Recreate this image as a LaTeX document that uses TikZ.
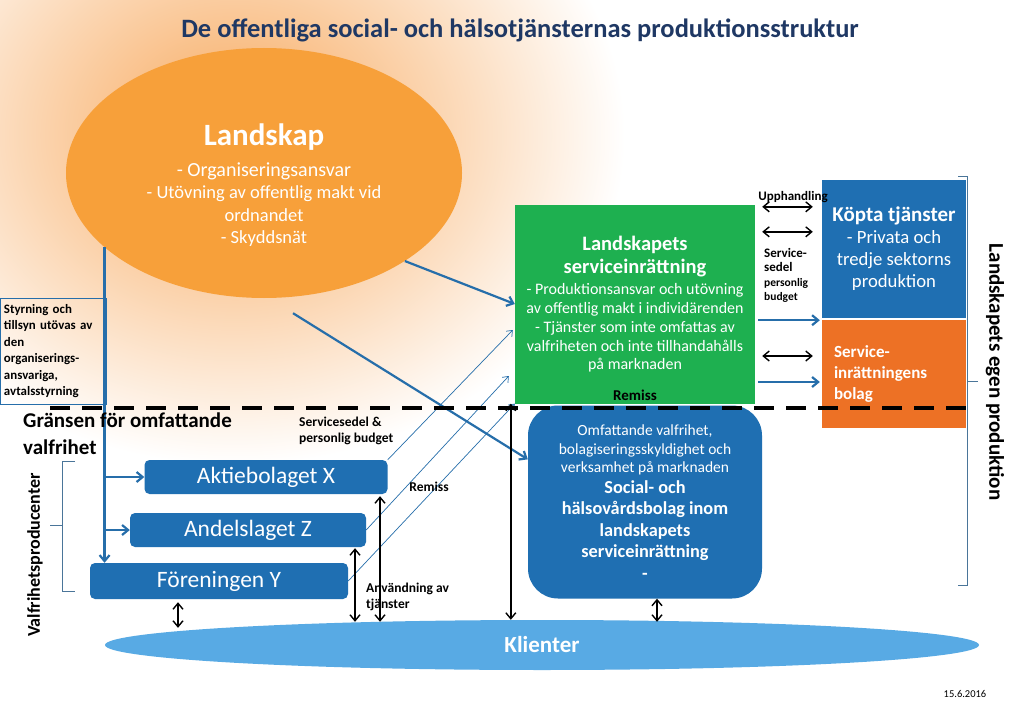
\documentclass[tikz,border=0pt]{standalone}
\usepackage{fontspec}
\setmainfont{Carlito}
\usetikzlibrary{calc,arrows.meta,positioning,shapes.geometric}
\definecolor{titleblue}{RGB}{31,56,100}
\definecolor{boxblue}{RGB}{31,111,178}
\definecolor{lineblue}{RGB}{38,110,170}
\definecolor{landorange}{RGB}{247,160,58}
\definecolor{glow}{RGB}{247,168,92}
\definecolor{servgreen}{RGB}{30,176,80}
\definecolor{bolagorange}{RGB}{237,113,37}
\definecolor{klientblue}{RGB}{88,170,228}
\newcommand{\bigb}{\fontsize{20.5}{25}\selectfont\bfseries}
\newcommand{\midb}{\fontsize{18.3}{22}\selectfont\bfseries}

\begin{document}
\begin{tikzpicture}[x=1pt,y=-1pt,>={Straight Barb[length=6pt,width=10pt]},
  txt/.style={text=white,align=center,inner sep=0pt},
  box/.style={fill=boxblue,rounded corners=5pt,minimum height=34pt,inner sep=0pt,text=white,font=\fontsize{23.5}{26}\selectfont},
  feed/.style={->,draw=lineblue,line width=2.2pt},
  thinfeed/.style={->,draw=lineblue,line width=0.7pt,>={Straight Barb[length=5pt,width=8pt]}},
  dbl/.style={<->,draw=black,line width=1.4pt},
  lbl/.style={font=\fontsize{13.5}{16}\selectfont\bfseries,align=left,inner sep=0pt},
  bracket/.style={draw=lineblue!60!gray,line width=0.8pt}]

  \useasboundingbox (0,0) rectangle (1023,706);
  \begin{scope}
    \clip (0,0) rectangle (1023,706);
    \fill[white] (0,0) rectangle (1023,706);
    \shade[inner color=glow,outer color=white] (235,135) ellipse (390 and 330);
  \end{scope}

  \node[font=\fontsize{26.5}{30}\selectfont\bfseries,text=titleblue] (title) at (520,30) {De offentliga social- och hälsotjänsternas produktionsstruktur};

  % landskap
  \node[ellipse,fill=landorange,minimum width=396pt,minimum height=250pt] (landskap) at (264,173) {};
  \node[txt,font=\fontsize{18.5}{22.3}\selectfont] (landtxt) at (264,185) {\fontsize{31}{36}\selectfont\bfseries Landskap\\[9pt] \fontsize{20}{22.3}\selectfont - Organiseringsansvar\\- Utövning av offentlig makt vid\\ordnandet\\- Skyddsnät};

  \node[draw=lineblue,line width=0.6pt,minimum width=106pt,minimum height=106pt,text width=98pt,inner xsep=4pt,align=left,font=\fontsize{12.9}{16.4}\selectfont\bfseries] (styr) at (53,351) {Styrning och\\tillsyn utövas av\\den\\organiserings-\\ansvariga,\\avtalsstyrning};

  % egen produktion
  \node[fill=servgreen,minimum width=240pt,minimum height=199pt,txt,font=\fontsize{16}{18.8}\selectfont] (serv) at (635,304) {\bigb Landskapets\\[5pt]\bigb serviceinrättning\\[2pt]- Produktionsansvar och utövning\\av offentlig makt i individärenden\\- Tjänster som inte omfattas av\\valfriheten och inte tillhandahålls\\på marknaden};
  \node[lbl,font=\fontsize{15}{16}\selectfont\bfseries] (remiss1) [above=3pt of serv.south] {Remiss};
  \node[fill=boxblue,minimum width=144pt,minimum height=138pt,txt,font=\fontsize{18.7}{22}\selectfont] (kopta) at (894,249) {\fontsize{21}{24}\selectfont\bfseries Köpta tjänster\\- Privata och\\tredje sektorns\\produktion};
  \node[fill=bolagorange,minimum height=108pt,text width=120pt,inner xsep=12pt,inner ysep=0pt,text=white,align=left,font=\fontsize{17}{21}\selectfont\bfseries] (bolag) at (894,374) {Service-\\inrättningens\\bolag};

  % valfrihet
  \node[fill=boxblue,rounded corners=30pt,minimum width=234pt,minimum height=193pt,txt,font=\fontsize{15.5}{18.5}\selectfont] (socbolag) at (645,502) {Omfattande valfrihet,\\bolagiseringsskyldighet och\\verksamhet på marknaden\\[2pt]\midb Social- och\\[3pt]\midb hälsovårdsbolag inom\\[3pt]\midb landskapets\\[3pt]\midb serviceinrättning\\[3pt]\midb -};
  \node[box,minimum width=243pt] (aktie) at (266,477) {Aktiebolaget X};
  \node[box,minimum width=236pt] (andel) at (248,530) {Andelslaget Z};
  \node[box,minimum width=258pt,minimum height=36pt] (foren) at (219,581) {Föreningen Y};

  \node[ellipse,fill=klientblue,minimum width=874pt,minimum height=50pt,text=white,font=\fontsize{23}{26}\selectfont\bfseries] (klient) at (542,645) {Klienter};

  \path[every edge/.style=feed]
    (landskap.-32) edge (serv.west)
    ($(landskap.south)+(29,15)$) edge (socbolag.160)
    (landskap.205) edge (landskap.205 |- foren.north)
    (landskap.205 |- aktie.west) edge (aktie.west)
    (landskap.205 |- andel.west) edge (andel.west)
    ($(serv.east |- kopta.south)+(3,2)$) edge ($(kopta.south west)+(-2,2)$)
    ($(serv.east |- bolag.west)+(3,8)$) edge ($(bolag.west)+(-2,8)$);

  \path[every edge/.style=thinfeed]
    (aktie.north east) edge ($(serv.west)+(-2,26)$)
    (andel.east) edge ($(serv.west)+(-6,72)$)
    (foren.east) edge (serv.south west);

  \path[every edge/.style=dbl]
    ($(serv.east |- kopta.north)+(7,27)$) edge ($(kopta.north west)+(-9,27)$)
    ($(serv.east |- kopta.north)+(7,52)$) edge ($(kopta.north west)+(-9,52)$)
    ($(serv.east |- bolag.west)+(7,-18)$) edge ($(bolag.west)+(-9,-18)$)
    ($(foren.south)+(-41,3)$) edge ($(foren.south |- klient.north)+(-41,8)$)
    ($(andel.south)+(107,1)$) edge ($(andel.south |- klient.north)+(107,2)$)
    ($(aktie.south)+(114,2)$) edge ($(aktie.south |- klient.north)+(114,2)$)
    ($(serv.south west)+(-4,0)$) edge ($(serv.south west |- klient.north)+(-4,0)$)
    ($(socbolag.south)+(12,0)$) edge ($(socbolag.south |- klient.north)+(12,2)$);

  % gransen
  \coordinate (gl) at (50,408);
  \coordinate (gr) at (975,408);
  \draw[line width=3.5pt,dash pattern=on 20pt off 12pt] (gl) -- (gr);

  \node[anchor=north west,inner sep=0pt,align=left,font=\fontsize{21}{25}\selectfont\bfseries] (grans) at (23,413) {Gränsen för omfattande\\[2pt]valfrihet};

  \draw[bracket] (75,461) -- (62,461) -- (62,591) -- (75,591) (62,525) -- (50,525);
  \node[rotate=90,font=\fontsize{18}{20}\selectfont\bfseries] (valfri) at (35,555) {Valfrihetsproducenter};
  \draw[bracket] (958,176) -- (967,176) -- (967,585) -- (958,585) (967,381) -- (978,381);
  \node[rotate=-90,font=\fontsize{21}{24}\selectfont\bfseries] (egen) at (995,372) {Landskapets egen produktion};

  % etiketter
  \node[lbl,font=\fontsize{13}{15}\selectfont\bfseries] (upph) at (793,197) {Upphandling};
  \node[lbl,anchor=north west,font=\fontsize{11.5}{14.5}\selectfont\bfseries] (sedel1) at (764,248) {\fontsize{13}{14.5}\selectfont Service-\\\fontsize{13}{14.5}\selectfont sedel\\personlig\\budget};
  \node[lbl,anchor=north west] (sedel2) at (299,417) {Servicesedel \&\\personlig budget};
  \node[lbl] (remiss2) at (429,487) {Remiss};
  \node[lbl,anchor=north west] (anvand) at (366,583) {Användning av\\tjänster};
  \node[font=\fontsize{10.5}{12}\selectfont] (datum) at (965,694) {15.6.2016};

\end{tikzpicture}
\end{document}
